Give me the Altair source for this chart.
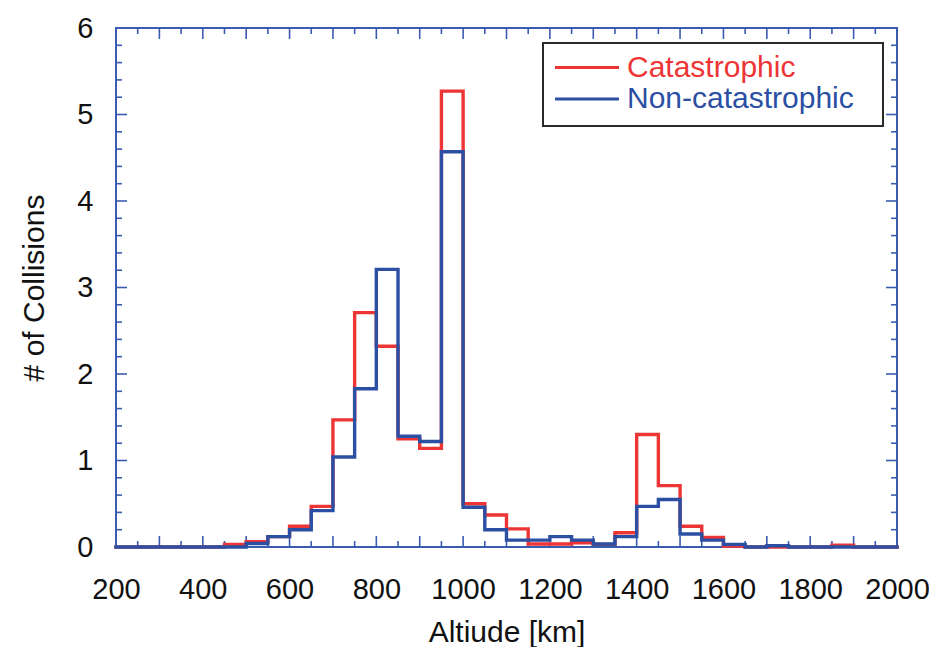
import altair as alt
import pandas as pd

# ---------------- data ----------------
series_names = ["Catastrophic", "Non-catastrophic"]
series_colors = ["#ee3535", "#2b4fa3"]

bin_left = [200, 250, 300, 350, 400, 450, 500, 550, 600, 650,
            700, 750, 800, 850, 900, 950, 1000, 1050, 1100, 1150,
            1200, 1250, 1300, 1350, 1400, 1450, 1500, 1550, 1600, 1650,
            1700, 1750, 1800, 1850, 1900, 1950]
bin_end = 2000

catastrophic = [0, 0, 0, 0, 0, 0.03, 0.06, 0.12, 0.24, 0.47,
                1.47, 2.71, 2.32, 1.25, 1.14, 5.27, 0.50, 0.37, 0.21, 0.035,
                0.035, 0.05, 0.03, 0.165, 1.30, 0.71, 0.24, 0.11, 0.01, 0,
                0, 0, 0, 0.02, 0, 0]
non_catastrophic = [0, 0, 0, 0, 0, 0, 0.04, 0.12, 0.20, 0.42,
                    1.04, 1.83, 3.21, 1.28, 1.22, 4.57, 0.46, 0.20, 0.08, 0.08,
                    0.12, 0.08, 0.035, 0.12, 0.47, 0.55, 0.15, 0.08, 0.03, 0,
                    0.015, 0, 0, 0, 0, 0]

x_label_values = [200, 400, 600, 800, 1000, 1200, 1400, 1600, 1800, 2000]
y_label_values = [0, 1, 2, 3, 4, 5, 6]
x_major_ticks = [200, 300, 400, 500, 600, 700, 800, 900, 1000, 1100, 1200,
                 1300, 1400, 1500, 1600, 1700, 1800, 1900, 2000]
x_minor_ticks = [250, 350, 450, 550, 650, 750, 850, 950, 1050, 1150, 1250,
                 1350, 1450, 1550, 1650, 1750, 1850, 1950]
y_major_ticks = [0, 1, 2, 3, 4, 5, 6]
y_minor_ticks = [0.2, 0.4, 0.6, 0.8, 1.2, 1.4, 1.6, 1.8, 2.2, 2.4, 2.6, 2.8,
                 3.2, 3.4, 3.6, 3.8, 4.2, 4.4, 4.6, 4.8, 5.2, 5.4, 5.6, 5.8]

x_title = "Altiude [km]"
y_title = "# of Collisions"

# ---------------- tables ----------------
def step_table(values, name):
    xs = bin_left + [bin_end]
    ys = values + [values[-1]]
    return pd.DataFrame({"alt": xs, "count": ys, "series": name})

df_cat = step_table(catastrophic, series_names[0])
df_non = step_table(non_catastrophic, series_names[1])
legend_df = pd.DataFrame({"series": series_names, "color": series_colors})

W, H = 781, 519
FONT = "Liberation Sans"
FRAME = "#3a5cb0"

x_scale = alt.Scale(domain=[200, 2000], nice=False, zero=False)
y_scale = alt.Scale(domain=[0, 6], nice=False, zero=True)

x_axis = alt.Axis(values=x_label_values, format="d", title=x_title, grid=False,
                  domain=False, ticks=False, tickSize=0, labelFontSize=29,
                  labelFont=FONT, labelColor="#111", labelPadding=28,
                  labelFlush=False, titleFontSize=30, titleFont=FONT,
                  titleFontWeight="normal", titleColor="#111",
                  titleBaseline="alphabetic", titleY=94, titleX=W / 2,
                  titleAnchor="middle")
y_axis = alt.Axis(values=y_label_values, format="d", title=y_title, grid=False,
                  domain=False, ticks=False, tickSize=0, labelFontSize=29,
                  labelFont=FONT, labelColor="#111", labelPadding=23,
                  labelFlush=False, titleFontSize=30, titleFont=FONT,
                  titleFontWeight="normal", titleColor="#111",
                  titleBaseline="alphabetic", titleAngle=270,
                  titleX=-73, titleY=H / 2, titleAlign="center")


def hist_line(df, color):
    return alt.Chart(df).mark_line(
        interpolate="step-after", color=color, strokeWidth=3.4,
        strokeJoin="miter", strokeCap="square"
    ).encode(
        x=alt.X("alt:Q", scale=x_scale, axis=x_axis),
        y=alt.Y("count:Q", scale=y_scale, axis=y_axis),
    )


def xticks(vals, y0, y1):
    return alt.Chart(pd.DataFrame({"t": vals})).mark_rule(
        color=FRAME, strokeWidth=1.6
    ).encode(
        x=alt.X("t:Q", scale=x_scale, axis=x_axis),
        y=alt.value(y0), y2=alt.value(y1),
    )


def yticks(vals, x0, x1):
    return alt.Chart(pd.DataFrame({"t": vals})).mark_rule(
        color=FRAME, strokeWidth=1.6
    ).encode(
        y=alt.Y("t:Q", scale=y_scale, axis=y_axis),
        x=alt.value(x0), x2=alt.value(x1),
    )


ticks = [
    xticks(x_major_ticks, H, H - 11), xticks(x_minor_ticks, H, H - 6),
    xticks(x_major_ticks, 0, 11), xticks(x_minor_ticks, 0, 6),
    yticks(y_major_ticks, 0, 11), yticks(y_minor_ticks, 0, 6),
    yticks(y_major_ticks, W, W - 11), yticks(y_minor_ticks, W, W - 6),
]

# ---------------- legend ----------------
legend_box = alt.Chart(legend_df.head(1)).mark_rect(
    fill="white", stroke="#2a2a2a", strokeWidth=2
).encode(x=alt.value(427), x2=alt.value(767), y=alt.value(15), y2=alt.value(98))

legend_layers = [legend_box]
row_y = [(39.5, 48.5), (71, 80)]
for i, name in enumerate(series_names):
    sub = legend_df[legend_df["series"] == name]
    ly, ty = row_y[i]
    legend_layers.append(
        alt.Chart(sub).mark_rule(color=series_colors[i], strokeWidth=3).encode(
            x=alt.value(439), x2=alt.value(503), y=alt.value(ly)
        )
    )
    legend_layers.append(
        alt.Chart(sub).mark_text(
            align="left", baseline="alphabetic", fontSize=30, font=FONT,
            color=series_colors[i]
        ).encode(text="series:N", x=alt.value(511), y=alt.value(ty))
    )

chart = alt.layer(
    *ticks,
    hist_line(df_cat, series_colors[0]),
    hist_line(df_non, series_colors[1]),
    *legend_layers,
).properties(
    width=W, height=H,
    autosize=alt.AutoSizeParams(type="none"),
    padding={"left": 108, "top": 20, "right": 32, "bottom": 100},
    background="white",
).configure_view(
    stroke=FRAME, strokeWidth=2
)

chart.save("out.html", embed_options={"renderer": "svg", "actions": False})
